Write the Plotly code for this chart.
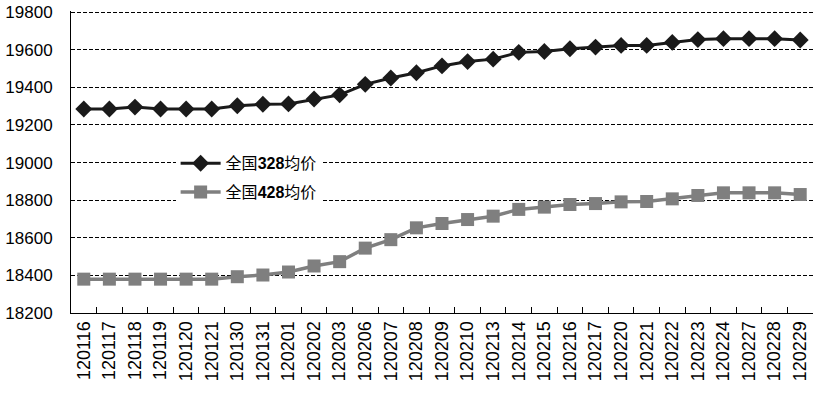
import plotly.graph_objects as go

categories = ["120116","120117","120118","120119","120120","120121","120130","120131",
              "120201","120202","120203","120206","120207","120208","120209","120210",
              "120213","120214","120215","120216","120217","120220","120221","120222",
              "120223","120224","120227","120228","120229"]
avg_328 = [19285,19285,19295,19285,19285,19285,19302,19310,19312,19338,19360,19416,19450,
           19478,19514,19537,19550,19586,19591,19605,19614,19623,19623,19639,19654,19659,
           19659,19659,19652]
avg_428 = [18380,18380,18380,18380,18380,18380,18393,18402,18418,18450,18473,18545,18590,
           18653,18676,18697,18715,18751,18763,18777,18782,18791,18793,18807,18825,18839,
           18839,18839,18830]
name_328 = "全国<b>328</b>均价"
name_428 = "全国<b>428</b>均价"
y_ticks = [18200,18400,18600,18800,19000,19200,19400,19600,19800]
y_labels = [str(v) for v in y_ticks]

fig = go.Figure()
fig.add_trace(go.Scatter(x=categories, y=avg_328, name=name_328, mode="lines+markers",
                         legendgroup="a",
                         line=dict(color="#1a1a1a", width=3),
                         marker=dict(symbol="diamond", size=13, color="#1a1a1a")))
fig.add_trace(go.Scatter(x=categories, y=avg_428, name=name_428, mode="lines+markers",
                         legendgroup="b",
                         line=dict(color="#7f7f7f", width=3.5),
                         marker=dict(symbol="square", size=13, color="#7f7f7f")))

fig.update_layout(
    width=819, height=399,
    margin=dict(l=71, r=6, t=11, b=86),
    plot_bgcolor="white", paper_bgcolor="white",
    font=dict(family="Liberation Sans, Noto Sans CJK SC", color="black", size=16),
    showlegend=True,
    legend=dict(x=0.141, y=0.552, xanchor="left", yanchor="top", bgcolor="white",
                font=dict(family="Liberation Sans, Noto Sans CJK SC", size=16, color="black"),
                itemwidth=40, tracegroupgap=5),
    xaxis=dict(type="category", range=[-0.5, 28.5], showline=True, linecolor="black",
               linewidth=1, ticks="inside", ticklen=6, tickcolor="black", tickson="boundaries",
               tickangle=-90, showgrid=False, tickfont=dict(size=18), automargin=False),
    yaxis=dict(range=[18200, 19806], tickvals=y_ticks, ticktext=y_labels, showline=True,
               linecolor="black", linewidth=1, ticks="", showgrid=True, gridcolor="black",
               gridwidth=1, griddash="4px,2px", tickfont=dict(size=17), zeroline=False,
               ticklabelstandoff=14, automargin=False),
)
fig.write_html("out.html", config={"displayModeBar": False},
               post_script="document.body.style.margin='0';")
